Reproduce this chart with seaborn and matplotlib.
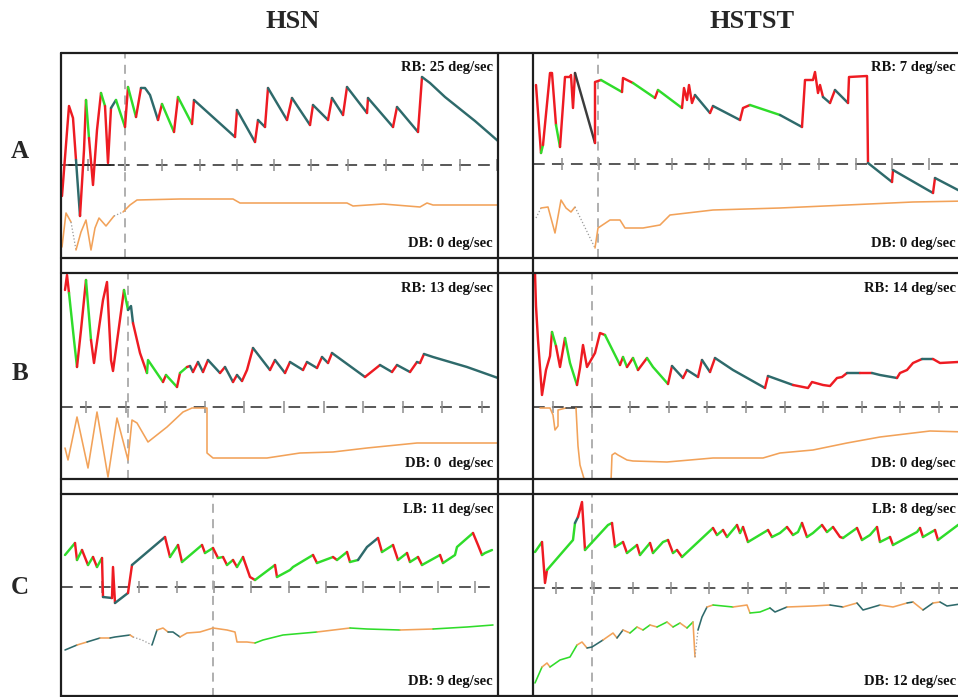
import numpy as np
import pandas as pd
import matplotlib
matplotlib.use("Agg")
import matplotlib.pyplot as plt
from matplotlib.lines import Line2D
import seaborn as sns

sns.set_theme(style="white")
plt.rcParams["font.family"] = ["Liberation Serif", "DejaVu Serif"]

# ------------------------------------------------------------------
# Slow-phase eye velocity recordings (time in samples, velocity in
# display units; 0 = dashed baseline). Colour code per segment:
# r = quick phase, g / t = slow phase, o = vertical channel,
# d = interpolated gap, k = saturated, n = no signal.
# ------------------------------------------------------------------
col_titles = ["HSN", "HSTST"]
row_labels = ["A", "B", "C"]

# ---- Row A -------------------------------------------------------
a_hsn_t = [1, 8, 12, 15, 19, 23, 25, 28, 32, 36, 40, 44, 47, 50, 55, 64, 67, 75, 80, 84,
           89, 97, 101, 113, 117, 131, 133, 174, 176, 194, 197, 204, 207, 226, 231, 249,
           252, 267, 271, 282, 286, 306, 307, 332, 336, 357, 361, 369, 384, 399, 414, 429, 437]
a_hsn_v = [-31, 59, 47, 5, -51, 15, 65, 27, -20, 35, 72, 59, 2, 57, 65, 38, 78, 48, 77, 77,
           70, 45, 61, 33, 68, 41, 65, 28, 55, 23, 45, 38, 77, 45, 67, 40,
           60, 45, 67, 50, 78, 52, 67, 38, 58, 33, 88, 82, 68, 56, 44, 31, 24]
a_hsn_c = "rrrt" "rrg" "rrrg" "rrtg" "rgr" "tttr" "grgr" "trtrtrtrtrtrtrtrtr" "tr" "tttttt"

a_hsn_low_t = [1, 5, 10, 15, 20, 25, 30, 34, 38, 45, 53, 62, 69, 76, 119, 172, 179, 286,
               292, 322, 359, 366, 372, 437]
a_hsn_low_v = [-82, -48, -57, -85, -67, -55, -85, -63, -53, -61, -51, -47, -40, -35, -34,
               -34, -38, -38, -41, -39, -42, -38, -40, -40]
a_hsn_low_c = "oodoooooood" "oooooooooooo"

a_hstst_t = [3, 8, 10, 17, 19, 23, 27, 32, 37, 38, 40, 42, 62, 62, 68, 89, 90, 100, 122, 125,
             149, 151, 154, 156, 159, 162, 177, 180, 207, 210, 217, 247, 269, 272, 280, 282,
             285, 287, 290, 297, 302, 315, 316, 334, 335, 359, 360, 400, 402, 425, 434]
a_hstst_v = [79, 11, 19, 91, 91, 39, 17, 87, 87, 89, 56, 91, 21, 82, 84, 72, 86, 81, 66, 74,
             56, 76, 64, 79, 61, 69, 51, 58, 44, 56, 59, 49, 37, 84, 84, 92,
             71, 79, 67, 61, 74, 61, 87, 88, 1, -18, -6, -29, -14, -26, -31]
a_hstst_c = ("rgrrrg" "rrrrr" "k" "rr" "g" "rr" "g" "r" "g" "rrrrr" "t" "r" "t" "rr" "g" "t"
             "rrrrrr" "t" "r" "t" "rrr" "t" "r" "t" "r" "tt")

a_hstst_low_t = [3, 8, 15, 22, 28, 33, 38, 42, 62, 65, 77, 87, 92, 110, 127, 137, 180, 247,
                 314, 380, 434]
a_hstst_low_v = [-54, -44, -43, -69, -36, -44, -48, -43, -84, -64, -56, -56, -64, -64, -61,
                 -51, -46, -44, -41, -38, -37]
a_hstst_low_c = "doooooo" "d" "oooooooooooo"

# ---- Row B -------------------------------------------------------
b_hsn_t = [4, 6, 8, 13, 16, 20, 25, 30, 33, 42, 46, 50, 52, 63, 67, 70, 72, 79, 86, 87,
           102, 105, 116, 119, 126, 129, 132, 137, 142, 147, 159, 164, 172, 176, 181, 186,
           192, 209, 214, 224, 229, 242, 246, 256, 261, 267, 271, 304, 309, 319, 331, 336,
           349, 356, 359, 363, 372, 406, 437]
b_hsn_v = [117, 132, 114, 67, 40, 77, 127, 67, 44, 107, 125, 47, 36, 117, 97, 101, 84, 54,
           34, 47, 25, 32, 20, 34, 40, 41, 35, 45, 35, 47, 34, 40, 25, 32, 26, 37,
           59, 37, 47, 34, 45, 37, 45, 39, 50, 44, 54, 30, 34, 42, 35, 42,
           35, 45, 44, 53, 50, 40, 29]
b_hsn_c = "rrggrrgrrrrrrgttrrggrgrgr" "trtrtrtrtrr" "trtrtrtrtr" "trr" "trtrtr" "ttt"

b_hsn_low_t = [4, 7, 16, 27, 36, 47, 56, 67, 71, 76, 87, 106, 122, 131, 146, 146, 152, 206,
               239, 272, 306, 356, 437]
b_hsn_low_v = [-41, -53, -10, -61, -5, -70, -11, -53, -13, -16, -35, -20, -5, -1, -1, -46,
               -51, -51, -46, -45, -41, -36, -36]
b_hsn_low_c = "o" * 22

b_hstst_t = [2, 3, 5, 9, 13, 17, 19, 23, 27, 32, 37, 44, 47, 50, 54, 62, 67, 72, 87, 90,
             94, 100, 105, 114, 120, 135, 139, 150, 154, 165, 169, 177, 182, 200, 232, 235,
             260, 275, 279, 290, 297, 304, 309, 314, 327, 339, 347, 364, 367, 374, 380, 389,
             400, 407, 425, 434]
b_hstst_v = [134, 101, 67, 12, 37, 51, 75, 61, 40, 69, 44, 22, 39, 62, 40, 54, 74, 72, 42, 50,
             40, 49, 37, 49, 40, 23, 41, 29, 37, 30, 47, 35, 49, 37, 19, 31,
             22, 19, 25, 22, 21, 29, 30, 34, 34, 34, 32, 29, 34, 37, 44, 48,
             48, 44, 45, 45]
b_hstst_c = ("rrrrrr" "g" "rr" "gg" "rrrrrr" "grgrg" "rgg" "rtrtrtrtt" "rt" "rrrrrrr"
             "trtt" "rrrr" "t" "rrr")

b_hstst_low_t = [7, 17, 20, 22, 25, 25, 33, 43, 45, 47, 52, 78, 79, 82, 85, 94, 100, 134,
                 180, 230, 247, 280, 314, 347, 397, 434]
b_hstst_low_v = [-1, -1, -8, -23, -19, -3, -1, -1, -39, -58, -75, -75, -48, -46, -48, -53,
                 -54, -55, -51, -51, -46, -43, -36, -30, -24, -25]
b_hstst_low_c = "oooooo" "k" "ooo" "n" "oooooooooooooo"

# ---- Row C -------------------------------------------------------
c_hsn_t = [4, 14, 16, 21, 27, 32, 36, 41, 42, 51, 52, 54, 67, 71, 104, 109, 117, 121, 141,
           144, 152, 157, 162, 166, 172, 176, 182, 189, 194, 214, 216, 229, 232, 252, 256,
           272, 276, 286, 289, 297, 306, 317, 321, 332, 337, 346, 349, 357, 361, 379, 382,
           394, 396, 412, 417, 421, 424, 431]
c_hsn_v = [32, 44, 27, 37, 22, 30, 20, 29, -10, -11, 20, -16, -6, 22, 50, 30, 42, 25, 42,
           34, 39, 29, 30, 22, 27, 20, 30, 10, 7, 22, 10, 17, 20, 32, 24,
           30, 27, 35, 25, 27, 40, 49, 35, 42, 27, 34, 25, 30, 22, 32, 24,
           32, 40, 54, 42, 32, 34, 37]
c_hsn_c = ("grgrgrgr" "trrtrtr" "grgrgrgrgrg" "rr" "gr" "ggg" "rgrgrg" "tt" "rgrgrgrgr"
           "ggg" "rr" "gg")

c_hsn_low_t = [4, 16, 26, 39, 49, 54, 69, 72, 81, 91, 96, 102, 107, 112, 119, 126, 139, 152,
               166, 174, 176, 186, 194, 202, 222, 256, 289, 306, 339, 372, 406, 432]
c_hsn_low_v = [-63, -58, -55, -51, -51, -50, -48, -50, -53, -58, -43, -41, -45, -45, -50,
               -46, -45, -41, -43, -45, -55, -55, -56, -53, -48, -45, -41, -42, -43, -42,
               -40, -38]
c_hsn_low_c = "toto" "tto" "ddt" "oott" "oooooooo" "ggg" "ogg" "ogg"

c_hstst_t = [2, 9, 12, 14, 40, 42, 45, 49, 52, 75, 79, 82, 90, 94, 104, 107, 117, 120, 130,
             135, 140, 144, 149, 180, 184, 190, 194, 204, 207, 210, 215, 235, 239, 247, 254,
             260, 265, 269, 274, 280, 289, 294, 300, 307, 310, 324, 329, 337, 344, 347, 357,
             360, 384, 387, 390, 402, 405, 425, 434]
c_hstst_v = [36, 46, 5, 18, 48, 65, 71, 86, 38, 63, 65, 41, 46, 35, 43, 33, 45, 35, 46,
             48, 35, 38, 31, 60, 53, 58, 51, 63, 55, 61, 46, 58, 51, 55, 61,
             53, 56, 65, 51, 55, 63, 56, 61, 51, 50, 60, 48, 53, 61, 46, 51,
             43, 56, 60, 51, 58, 48, 63, 68]
c_hstst_c = ("grrggt" "rrggr" "grgrgr" "ggr" "gr" "grgrgrgr" "gr" "ggr" "ggr" "ggr" "grr"
             "gr" "ggr" "gr" "ggr" "gr" "gg")

c_hstst_low_t = [2, 9, 14, 17, 27, 37, 44, 49, 54, 59, 70, 80, 84, 90, 97, 104, 110, 117,
                 124, 134, 140, 147, 154, 160, 162, 165, 169, 174, 180, 200, 214, 217, 227,
                 237, 242, 254, 280, 297, 310, 324, 330, 347, 360, 374, 380, 390, 400, 407,
                 414, 434]
c_hstst_low_v = [-95, -79, -75, -79, -72, -69, -57, -54, -60, -59, -52, -45, -50, -42, -45,
                 -39, -42, -37, -39, -34, -39, -35, -40, -34, -69, -42, -29, -19, -17, -19,
                 -17, -25, -24, -20, -24, -19, -18, -17, -19, -15, -22, -17, -19, -15, -14,
                 -22, -15, -14, -18, -15]
c_hstst_low_c = ("goo" "ggg" "oo" "tt" "oo" "t" "ogogogogog" "o" "d" "tt" "o" "g" "oo" "gg"
                 "tt" "oo" "t" "o" "tt" "oo" "t" "o" "t" "o" "tt")

# Panel annotations
top_labels = [["RB: 25 deg/sec", "RB: 7 deg/sec"],
              ["RB: 13 deg/sec", "RB: 14 deg/sec"],
              ["LB: 11 deg/sec", "LB: 8 deg/sec"]]
bottom_labels = [["DB: 0 deg/sec", "DB: 0 deg/sec"],
                 ["DB: 0  deg/sec", "DB: 0 deg/sec"],
                 ["DB: 9 deg/sec", "DB: 12 deg/sec"]]

# Stimulus-end marker and time-grid ticks (origin, step) per panel
markers = [[64, 65], [67, 59], [152, 59]]
tick_grid = [[(27, 37.2), (29, 36.7)], [(25, 39.6), (20, 38.6)], [(41, 37.3), (23, 38.3)]]
saturated_span = [8, 53]  # row A / HSN: signal clipped at baseline

# ------------------------------------------------------------------
COLORS = {"r": "#ee1b22", "g": "#2fdc2a", "t": "#2e6a6b", "o": "#f2a259",
          "k": "#3c3c3c", "d": "#9c9c9c"}

W, H = 958, 697
fig = plt.figure(figsize=(W / 100, H / 100), dpi=100)
fig.patch.set_facecolor("white")

col_x = [(61, 437), (533, 434)]          # left edge, width (px)
label_inset = [-5, -11]                  # right inset of panel captions (px)
row_y = [(53, 258, 165, 164), (273, 479, 407, 407), (494, 697, 587, 588)]  # top, bottom, baselines


def draw_trace(ax, t, v, codes, lw, z):
    codes = codes[: len(t) - 1]
    start = 0
    runs = []
    for i in range(1, len(codes)):
        if codes[i] != codes[i - 1]:
            runs.append((start, i, codes[start]))
            start = i
    runs.append((start, len(codes), codes[start]))
    for s, e, c in runs:
        if c == "n":
            continue
        df = pd.DataFrame({"t": t[s:e + 1], "v": v[s:e + 1]})
        sns.lineplot(data=df, x="t", y="v", ax=ax, color=COLORS[c],
                     linewidth=lw * (0.8 if c == "d" else 1.0),
                     linestyle=(0, (1, 1.6)) if c == "d" else "-",
                     sort=False, estimator=None, zorder=z,
                     solid_joinstyle="round", solid_capstyle="round")


traces = [
    [(a_hsn_t, a_hsn_v, a_hsn_c, a_hsn_low_t, a_hsn_low_v, a_hsn_low_c),
     (a_hstst_t, a_hstst_v, a_hstst_c, a_hstst_low_t, a_hstst_low_v, a_hstst_low_c)],
    [(b_hsn_t, b_hsn_v, b_hsn_c, b_hsn_low_t, b_hsn_low_v, b_hsn_low_c),
     (b_hstst_t, b_hstst_v, b_hstst_c, b_hstst_low_t, b_hstst_low_v, b_hstst_low_c)],
    [(c_hsn_t, c_hsn_v, c_hsn_c, c_hsn_low_t, c_hsn_low_v, c_hsn_low_c),
     (c_hstst_t, c_hstst_v, c_hstst_c, c_hstst_low_t, c_hstst_low_v, c_hstst_low_c)],
]

for r, (top, bot, base0, base1) in enumerate(row_y):
    for c, (left, width) in enumerate(col_x):
        base = base0 if c == 0 else base1
        ax = fig.add_axes([left / W, 1 - bot / H, width / W, (bot - top) / H])
        ax.set_xlim(0, width)
        ax.set_ylim(base - bot, base - top)
        ax.set_axis_off()

        # time grid: dashed baseline with tick crosses
        ax.axhline(0, color="#4a4a4a", lw=1.3, dashes=(6.5, 4.0), zorder=1)
        t0, step = tick_grid[r][c]
        ticks = np.arange(t0, width, step)
        ax.vlines(ticks, -6, 6, color="#8e8e8e", lw=1.1, zorder=1)
        ax.axvline(markers[r][c], color="#a9a9a9", lw=1.3, dashes=(5, 3.5), zorder=1)
        if r == 0 and c == 0:
            ax.plot(saturated_span, [0, 0], color="#222222", lw=1.3, zorder=2)

        ut, uv, uc, lt, lv, lc = traces[r][c]
        draw_trace(ax, lt, lv, lc, 1.15, 3)
        draw_trace(ax, ut, uv, uc, 1.75, 4)

        ax.set_xlabel("")
        ax.set_ylabel("")
        ax.annotate(top_labels[r][c], xy=(1, 1), xycoords="axes fraction",
                    xytext=(label_inset[c], -15), textcoords="offset pixels",
                    ha="right", va="center", fontsize=10.5, fontweight="bold",
                    color="#111111", zorder=6)
        ax.annotate(bottom_labels[r][c], xy=(1, 0), xycoords="axes fraction",
                    xytext=(label_inset[c], 15), textcoords="offset pixels",
                    ha="right", va="center", fontsize=10.5, fontweight="bold",
                    color="#111111", zorder=6)


# table frame
def fig_line(x0, y0, x1, y1, lw=1.6):
    fig.add_artist(Line2D([x0 / W, x1 / W], [1 - y0 / H, 1 - y1 / H],
                          color="#1e1e1e", lw=lw, transform=fig.transFigure))


for y in [53, 258, 273, 479, 494, 696]:
    fig_line(61, y, W, y)
for x in [61, 498, 533]:
    fig_line(x, 53, x, 697)

# column and row headings
fig.text(293 / W, 1 - 22 / H, col_titles[0], ha="center", va="center",
         fontsize=19, fontweight="bold")
fig.text(752 / W, 1 - 22 / H, col_titles[1], ha="center", va="center",
         fontsize=19, fontweight="bold")
for lab, y in zip(row_labels, [152, 373, 587]):
    fig.text(20 / W, 1 - y / H, lab, ha="center", va="center", fontsize=18,
             fontweight="bold")

fig.savefig("out.png", dpi=100)
